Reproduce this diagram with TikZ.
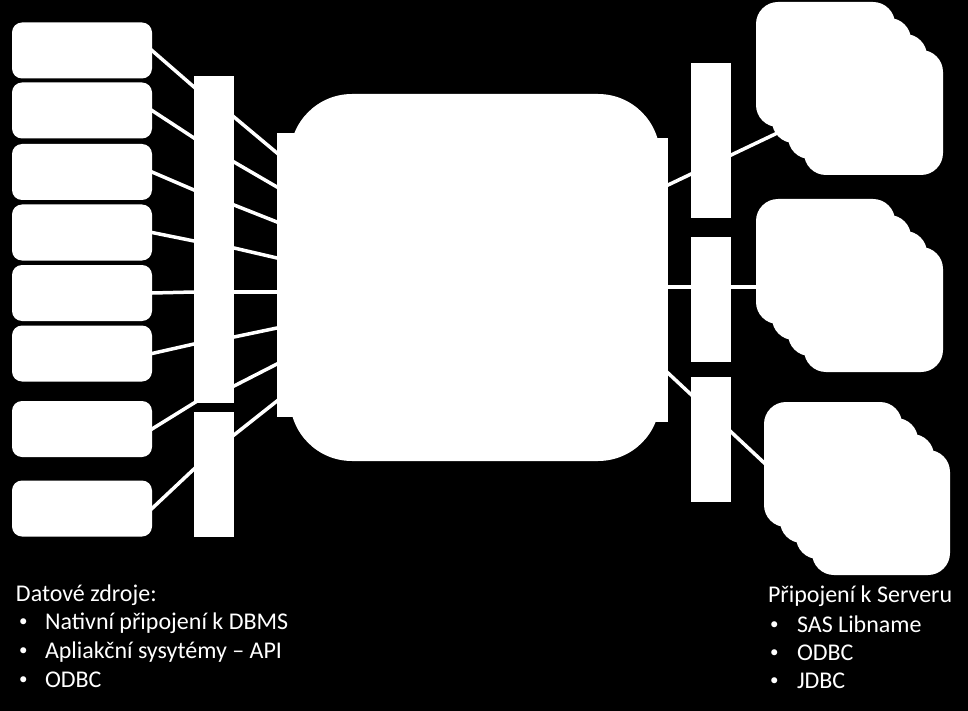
\documentclass[tikz,border=0pt]{standalone}
\usepackage{fontspec}
\setmainfont{Carlito}
\usetikzlibrary{calc}
\pgfdeclarelayer{bg}
\pgfdeclarelayer{lines}
\pgfsetlayers{bg,lines,main}
\begin{document}
\begin{tikzpicture}[x=1pt,y=-1pt,
  srcbox/.style={fill=white, draw=none, rounded corners=10pt, minimum width=140pt, minimum height=56pt, inner sep=0pt, outer sep=0pt},
  barbox/.style={fill=white, draw=none, inner sep=0pt, outer sep=0pt},
  srv/.style={fill=white, draw=none, rounded corners=22pt, minimum width=139pt, minimum height=125pt, inner sep=0pt, outer sep=0pt},
  link/.style={draw=white, line width=3.5pt, shorten >=-4pt, shorten <=-4pt},
  txt/.style={text=white, font=\fontsize{24}{28}\selectfont, anchor=base west, inner sep=0pt, outer sep=0pt},
  bul/.style={text=white, font=\fontsize{17}{20}\selectfont, anchor=base west, inner sep=0pt, outer sep=0pt, yshift=2.5pt}]

\begin{pgfonlayer}{bg}
  \fill[black] (0,0) rectangle (968,711);
\end{pgfonlayer}
\useasboundingbox (0,0) rectangle (968,711);

% data sources
\node[srcbox] (s1) at (82,50.5) {};
\node[srcbox] (s2) at (82,110.5) {};
\node[srcbox] (s3) at (82,172) {};
\node[srcbox] (s4) at (82,232.5) {};
\node[srcbox] (s5) at (82,293) {};
\node[srcbox] (s6) at (82,353.5) {};
\node[srcbox] (s7) at (82,429) {};
\node[srcbox] (s8) at (82,508.5) {};

% left bars
\node[barbox, minimum width=40pt, minimum height=327pt] (bar1) at (214,239.5) {};
\node[barbox, minimum width=40pt, minimum height=125pt] (bar2) at (214,474.5) {};

% core
\node[barbox, minimum width=18pt, minimum height=284pt] (cl) at (286,275) {};
\node[barbox, minimum width=18pt, minimum height=284pt] (cr) at (659,280) {};
\node[barbox, rounded corners=62pt, minimum width=370pt, minimum height=367pt] (core) at (475,277.5) {};

% right bars
\node[barbox, minimum width=40pt, minimum height=155pt] (rb1) at (711,140.5) {};
\node[barbox, minimum width=40pt, minimum height=125pt] (rb2) at (711,299.5) {};
\node[barbox, minimum width=40pt, minimum height=125pt] (rb3) at (711,439.5) {};

% server stacks
\foreach \k in {0,1,2,3}{
  \node[srv] (st1-\k) at (825.5+16*\k,64.5+16*\k) {};
}
\foreach \k in {0,1,2,3}{
  \node[srv] (st2-\k) at (825.5+16*\k,261.5+16*\k) {};
}
\foreach \k in {0,1,2,3}{
  \node[srv, minimum width=138pt] (st3-\k) at (833+16*\k,464.5+16*\k) {};
}

\coordinate (e1) at (790,127);
\coordinate (e2) at (772,287);
\coordinate (e3) at (775,473);

\begin{pgfonlayer}{lines}
  % sources -> bars
  \draw[link] (s1.east) -- ($(bar1.north west)+(0,11)$);
  \draw[link] (s2.east) -- ($(bar1.north west)+(0,62)$);
  \draw[link] (s3.east) -- ($(bar1.north west)+(0,114)$);
  \draw[link] (s4.east) -- ($(bar1.north west)+(0,165)$);
  \draw[link] (s5.east) -- ($(bar1.north west)+(0,216)$);
  \draw[link] (s6.east) -- ($(bar1.north west)+(0,268)$);
  \draw[link] (s7.east) -- (bar1.south west);
  \draw[link] (s8.east) -- ($(bar2.north west)+(0,57)$);
  % bars -> core
  \draw[link] ($(bar1.north east)+(0,41)$) -- ($(cl.north west)+(0,20)$);
  \draw[link] ($(bar1.north east)+(0,86)$) -- ($(cl.north west)+(0,54)$);
  \draw[link] ($(bar1.north east)+(0,129)$) -- ($(cl.north west)+(0,89)$);
  \draw[link] ($(bar1.north east)+(0,172)$) -- ($(cl.north west)+(0,125)$);
  \draw[link] ($(bar1.north east)+(0,216)$) -- ($(cl.north west)+(0,159)$);
  \draw[link] ($(bar1.north east)+(0,261)$) -- ($(cl.north west)+(0,195)$);
  \draw[link] ($(bar1.north east)+(0,310)$) -- ($(cl.north west)+(0,231)$);
  \draw[link] ($(bar2.north east)+(0,23)$) -- ($(cl.north west)+(0,268)$);
  % core -> servers
  \draw[link] ($(cr.north east)+(0,47)$) -- (e1);
  \draw[link] ($(cr.north east)+(0,149)$) -- (e2);
  \draw[link] ($(cr.north east)+(0,235)$) -- (e3);
\end{pgfonlayer}

% texts
\node[txt] (t1) at (16,601) {Datové zdroje:};
\node[bul] (t1b1) at (19,629) {•};
\node[txt] (t1a) at (45,629) {Nativní připojení k DBMS};
\node[bul] (t1b2) at (19,658) {•};
\node[txt] (t1c) at (45,658) {Apliakční sysytémy – API};
\node[bul] (t1b3) at (19,687) {•};
\node[txt] (t1d) at (45,687) {ODBC};

\node[txt] (t2) at (768,602) {Připojení k Serveru};
\node[bul] (t2b1) at (770,632) {•};
\node[txt] (t2a) at (797,632) {SAS Libname};
\node[bul] (t2b2) at (770,660) {•};
\node[txt] (t2c) at (797,660) {ODBC};
\node[bul] (t2b3) at (770,688) {•};
\node[txt] (t2d) at (797,688) {JDBC};
\end{tikzpicture}
\end{document}
